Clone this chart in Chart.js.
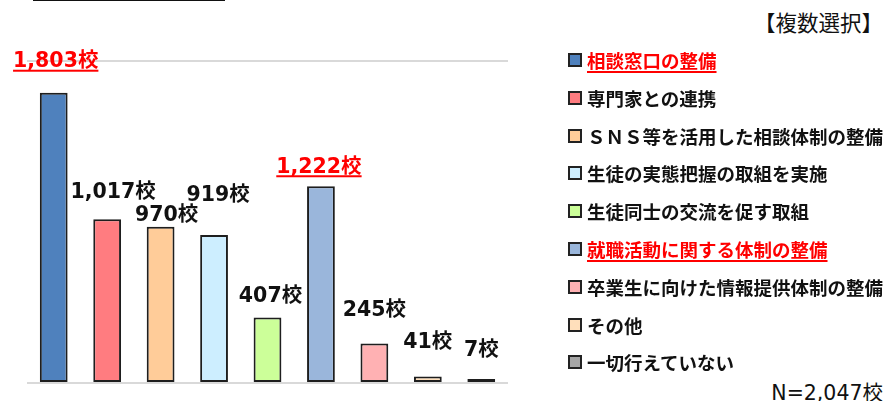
<!DOCTYPE html>
<html lang="ja">
<head>
<meta charset="utf-8">
<title>取組状況</title>
<script src="https://cdn.jsdelivr.net/npm/chart.js@4.4.1/dist/chart.umd.min.js"></script>
<style>
  html, body { margin: 0; padding: 0; background: #fff; }
  body { width: 887px; height: 401px; position: relative; overflow: hidden;
         font-family: "Noto Sans CJK JP", "Noto Sans", sans-serif; color: #111; }
  #chart { position: absolute; left: 0; top: 0; }
  .title { position: absolute; left: 33px; top: -31px; font-size: 24px; font-weight: bold; white-space: nowrap; }
  .title u { text-decoration-thickness: 3px; text-underline-offset: 1px; }
  .note { position: absolute; right: 4px; white-space: nowrap; }
  .legend-item { position: absolute; left: 568px; height: 20px; display: flex; align-items: center; white-space: nowrap; }
  .legend-box { width: 14px; height: 14px; box-sizing: border-box; border: 2px solid #222; margin-right: 5px; }
  .legend-text { font-size: 18.5px; font-weight: bold; line-height: 20px; }
  .legend-text.hl { color: #ff0000; text-decoration: underline; text-decoration-thickness: 2px; text-underline-offset: 3px; }
</style>
</head>
<body>
<div class="title"><u>学校における取組</u>　（取組を行っている学校数）</div>
<div class="note" style="top:6px; font-size:21.5px;">【複数選択】</div>
<div class="note" style="top:376px; font-size:20.5px; font-family:'DejaVu Sans','Noto Sans CJK JP',sans-serif;">N=2,047校</div>
<canvas id="chart" width="887" height="401"></canvas>
<div id="legend"></div>

<script>
// ---- data ----
const categories = [
  '相談窓口の整備',
  '専門家との連携',
  'ＳＮＳ等を活用した相談体制の整備',
  '生徒の実態把握の取組を実施',
  '生徒同士の交流を促す取組',
  '就職活動に関する体制の整備',
  '卒業生に向けた情報提供体制の整備',
  'その他',
  '一切行えていない'
];
const schoolCounts = [1803, 1017, 970, 919, 407, 1222, 245, 41, 7];
const highlighted = [true, false, false, false, false, true, false, false, false];
const yTicks = [0, 2000];

const barColors = ['#4f81bd', '#ff7c80', '#ffcc99', '#cdeeff', '#ccff99', '#9ab6db', '#ffb1b3', '#ffdfbb', '#a6a6a6'];

// label nudges relative to the bar top (hand-placed in the original)
const labelOffsets = [[2, -31], [6, -27], [6, -11], [4, -39], [3, -21], [-2, -19], [0, -33], [0, -34], [0, -28]];

// ---- legend (html) ----
const legend = document.getElementById('legend');
categories.forEach((name, i) => {
  const row = document.createElement('div');
  row.className = 'legend-item';
  row.style.top = (60 + i * 37.8 - 10) + 'px';
  row.innerHTML = `<div class="legend-box" style="background:${barColors[i]}"></div>` +
    `<div class="legend-text${highlighted[i] ? ' hl' : ''}">${name}</div>`;
  legend.appendChild(row);
});

// ---- value labels ----
const valueLabels = {
  id: 'valueLabels',
  afterDatasetsDraw(chart) {
    const ctx = chart.ctx;
    const meta = chart.getDatasetMeta(0);
    meta.data.forEach((bar, i) => {
      const off = labelOffsets[i];
      const text = schoolCounts[i].toLocaleString('en-US') + '校';
      const x = bar.x + off[0];
      const y = bar.y + off[1];
      ctx.save();
      ctx.font = 'bold 20.5px "DejaVu Sans", "Noto Sans CJK JP", sans-serif';
      ctx.textAlign = 'center';
      ctx.textBaseline = 'middle';
      ctx.fillStyle = highlighted[i] ? '#ff0000' : '#111111';
      ctx.fillText(text, x, y);
      if (highlighted[i]) {
        const w = ctx.measureText(text).width;
        ctx.fillRect(x - w / 2, y + 8, w, 2);
      }
      ctx.restore();
    });
  }
};

new Chart(document.getElementById('chart'), {
  type: 'bar',
  data: {
    labels: categories,
    datasets: [{
      data: schoolCounts,
      backgroundColor: barColors,
      borderColor: '#1e1e1e',
      borderWidth: 2,
      borderSkipped: false,
      minBarLength: 4,
      barPercentage: 0.52,
      categoryPercentage: 1
    }]
  },
  options: {
    responsive: false,
    animation: false,
    layout: { padding: { left: 27, right: 379, top: 61, bottom: 18 } },
    plugins: { legend: { display: false }, tooltip: { enabled: false } },
    scales: {
      x: { display: false },
      y: {
        min: yTicks[0],
        max: yTicks[yTicks.length - 1],
        afterBuildTicks: (scale) => { scale.ticks = yTicks.map(v => ({ value: v })); },
        afterFit: (scale) => { scale.width = 0; },
        ticks: { display: false },
        border: { display: false },
        grid: { color: '#d9d9d9', lineWidth: 2, drawTicks: false }
      }
    }
  },
  plugins: [valueLabels]
});
</script>
</body>
</html>
